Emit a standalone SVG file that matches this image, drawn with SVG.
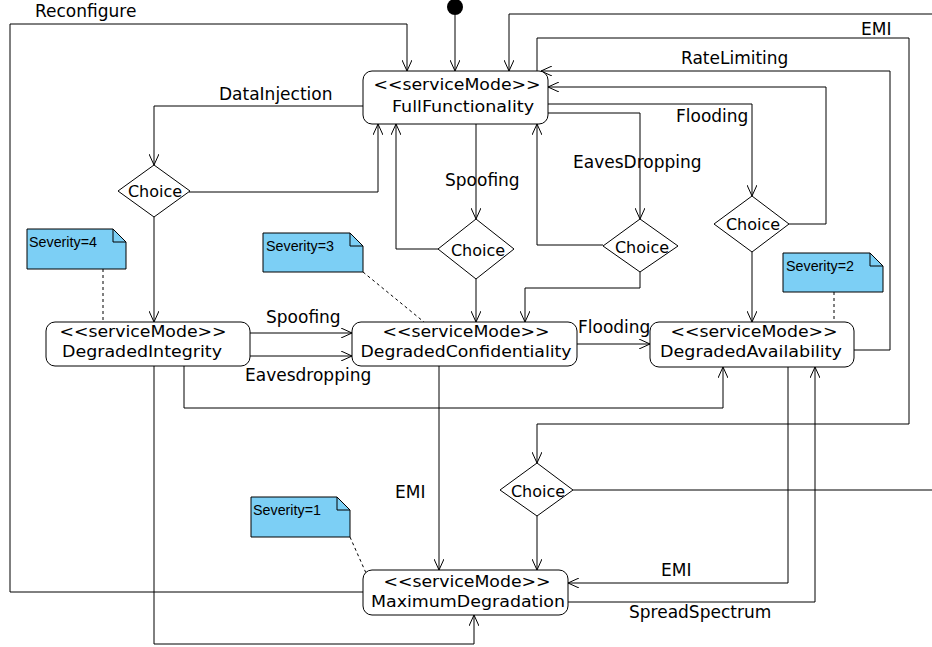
<svg xmlns="http://www.w3.org/2000/svg" width="932" height="647" viewBox="0 0 932 647">
<defs>
<marker id="arr" viewBox="0 0 11 10" refX="11" refY="5" markerWidth="11" markerHeight="10" markerUnits="userSpaceOnUse" orient="auto">
<path d="M0,0 L11,5 L0,10" fill="none" stroke="#000" stroke-width="1"/>
</marker>
</defs>
<style>
.st{fill:#fff;stroke:#000;stroke-width:1}
.ch{fill:#fff;stroke:#000;stroke-width:1}
.t{font-family:"DejaVu Sans",sans-serif;font-size:17px;fill:#000}
.s{font-family:"DejaVu Sans",sans-serif;font-size:16px;fill:#000;text-anchor:middle}
.tc{font-family:"DejaVu Sans",sans-serif;font-size:16px;fill:#000;text-anchor:middle}
.c{fill:none;stroke:#000;stroke-width:1;marker-end:url(#arr)}
.cn{fill:none;stroke:#000;stroke-width:1}
.note{fill:#7ccff5;stroke:#000;stroke-width:1}
.nt{font-family:"Liberation Sans",Arial,sans-serif;font-size:15px;fill:#000}
.d{fill:none;stroke:#000;stroke-width:1;stroke-dasharray:3,3}
</style>
<g id="connectors">
<polyline class="c" points="455,15 455,71"/>
<polyline class="c" points="363,592 10,592 10,24 407,24 407,71"/>
<polyline class="c" points="363,106 154,106 154,165"/>
<polyline class="c" points="189,192 378,192 378,124"/>
<polyline class="c" points="154,217 154,322"/>
<polyline class="c" points="476,124 476,219"/>
<polyline class="c" points="438,249 396,249 396,124"/>
<polyline class="c" points="476,279 476,322"/>
<polyline class="c" points="548,113 640,113 640,219"/>
<polyline class="c" points="603,245 537,245 537,124"/>
<polyline class="c" points="640,272 640,288 525,288 525,322"/>
<polyline class="c" points="548,104 752,104 752,196"/>
<polyline class="c" points="789,224 826,224 826,87 548,87"/>
<polyline class="c" points="752,252 752,322"/>
<polyline class="c" points="854,350 890,350 890,71 541,71"/>
<polyline class="c" points="537,71 537,38 909,38 909,424 537,424 537,463"/>
<polyline class="cn" points="573,490 932,490"/>
<polyline class="c" points="932,14 509,14 509,71"/>
<polyline class="c" points="537,516 537,570"/>
<polyline class="c" points="250,333 352,333"/>
<polyline class="c" points="250,356 352,356"/>
<polyline class="c" points="577,344 650,344"/>
<polyline class="c" points="184,366 184,408 723,408 723,367"/>
<polyline class="c" points="154,366 154,644 474,644 474,615"/>
<polyline class="c" points="439,366 439,570"/>
<polyline class="c" points="788,367 788,583 568,583"/>
<polyline class="c" points="568,602 815,602 815,367"/>
<line class="d" x1="103" y1="269" x2="103" y2="322"/>
<line class="d" x1="363" y1="272" x2="424" y2="322"/>
<line class="d" x1="834" y1="292" x2="834" y2="322"/>
<line class="d" x1="350" y1="537" x2="366" y2="573"/>
<text class="t" x="35" y="17">Reconfigure</text>
<text class="t" x="219" y="100">DataInjection</text>
<text class="t" x="445" y="186">Spoofing</text>
<text class="t" x="573" y="168">EavesDropping</text>
<text class="t" x="676" y="122">Flooding</text>
<text class="t" x="681" y="64">RateLimiting</text>
<text class="t" x="861" y="35">EMI</text>
<text class="t" x="266" y="323">Spoofing</text>
<text class="t" x="245" y="381">Eavesdropping</text>
<text class="t" x="578" y="333">Flooding</text>
<text class="t" x="395" y="498">EMI</text>
<text class="t" x="661" y="576">EMI</text>
<text class="t" x="629" y="618">SpreadSpectrum</text>
</g>
<g id="initial">
<circle cx="455" cy="7" r="8" fill="#000"/>
</g>
<g id="FullFunctionality">
<rect class="st" x="363" y="71" width="185" height="53" rx="9"/>
<text class="s" x="457" y="90" textLength="167" lengthAdjust="spacingAndGlyphs">&lt;&lt;serviceMode&gt;&gt;</text>
<text class="s" x="463" y="112" textLength="142" lengthAdjust="spacingAndGlyphs">FullFunctionality</text>
</g>
<g id="DegradedIntegrity">
<rect class="st" x="46" y="322" width="204" height="44" rx="9"/>
<text class="s" x="143" y="337" textLength="167" lengthAdjust="spacingAndGlyphs">&lt;&lt;serviceMode&gt;&gt;</text>
<text class="s" x="142" y="357" textLength="160" lengthAdjust="spacingAndGlyphs">DegradedIntegrity</text>
</g>
<g id="DegradedConfidentiality">
<rect class="st" x="352" y="322" width="225" height="44" rx="9"/>
<text class="s" x="466" y="337" textLength="167" lengthAdjust="spacingAndGlyphs">&lt;&lt;serviceMode&gt;&gt;</text>
<text class="s" x="466" y="357" textLength="211" lengthAdjust="spacingAndGlyphs">DegradedConfidentiality</text>
</g>
<g id="DegradedAvailability">
<rect class="st" x="650" y="322" width="204" height="45" rx="9"/>
<text class="s" x="754" y="337" textLength="167" lengthAdjust="spacingAndGlyphs">&lt;&lt;serviceMode&gt;&gt;</text>
<text class="s" x="751" y="357" textLength="182" lengthAdjust="spacingAndGlyphs">DegradedAvailability</text>
</g>
<g id="MaximumDegradation">
<rect class="st" x="363" y="570" width="205" height="45" rx="9"/>
<text class="s" x="467" y="587" textLength="167" lengthAdjust="spacingAndGlyphs">&lt;&lt;serviceMode&gt;&gt;</text>
<text class="s" x="468" y="607" textLength="194" lengthAdjust="spacingAndGlyphs">MaximumDegradation</text>
</g>
<g id="choice1">
<polygon class="ch" points="154,165 190,191 154,217 118,191"/>
<text class="tc" x="155" y="197">Choice</text>
</g>
<g id="choice2">
<polygon class="ch" points="476,219 514,249 476,279 438,249"/>
<text class="tc" x="478" y="256">Choice</text>
</g>
<g id="choice3">
<polygon class="ch" points="640,219 678,246 640,272 603,246"/>
<text class="tc" x="642" y="253">Choice</text>
</g>
<g id="choice4">
<polygon class="ch" points="752,196 789,224 752,252 714,224"/>
<text class="tc" x="753" y="230">Choice</text>
</g>
<g id="choice5">
<polygon class="ch" points="537,463 573,490 537,516 500,490"/>
<text class="tc" x="538" y="497">Choice</text>
</g>
<g id="note4">
<path class="note" d="M27,229 L113,229 L126,242 L126,269 L27,269 Z"/>
<path class="cn" d="M113,229 L113,242 L126,242"/>
<text class="nt" x="29" y="247" textLength="68" lengthAdjust="spacingAndGlyphs">Severity=4</text>
</g>
<g id="note3">
<path class="note" d="M263,233 L350,233 L363,246 L363,272 L263,272 Z"/>
<path class="cn" d="M350,233 L350,246 L363,246"/>
<text class="nt" x="266" y="251" textLength="68" lengthAdjust="spacingAndGlyphs">Severity=3</text>
</g>
<g id="note2">
<path class="note" d="M783,253 L870,253 L883,266 L883,292 L783,292 Z"/>
<path class="cn" d="M870,253 L870,266 L883,266"/>
<text class="nt" x="786" y="271" textLength="68" lengthAdjust="spacingAndGlyphs">Severity=2</text>
</g>
<g id="note1">
<path class="note" d="M251,497 L337,497 L350,510 L350,537 L251,537 Z"/>
<path class="cn" d="M337,497 L337,510 L350,510"/>
<text class="nt" x="253" y="515" textLength="68" lengthAdjust="spacingAndGlyphs">Severity=1</text>
</g>
</svg>
